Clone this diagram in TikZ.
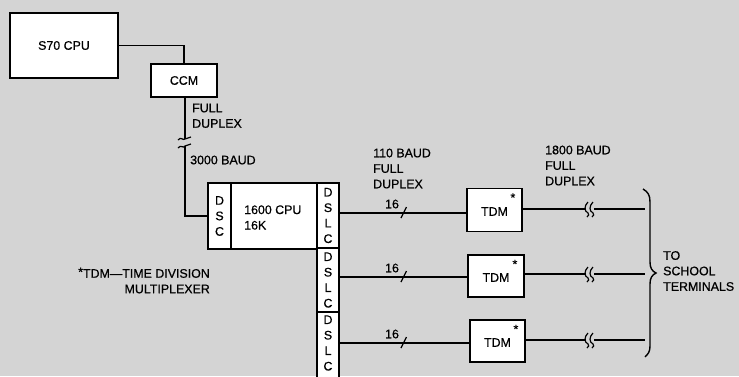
\documentclass[tikz,border=0pt]{standalone}
\usepackage{fontspec}
\setmainfont{Liberation Sans}[UprightFeatures={FakeBold=0.6}]
\begin{document}
\begin{tikzpicture}[x=1pt,y=-1pt,
  box/.style={draw=black,line width=1.8pt,fill=white,inner sep=0pt},
  wire/.style={line width=1.4pt},
  lbl/.style={inner sep=0pt,font=\fontsize{12.4}{15.5}\selectfont,align=left},
  stack/.style={inner sep=0pt,font=\fontsize{12.4}{15.5}\selectfont,align=center}]
\definecolor{bg}{RGB}{212,212,212}
\fill[bg] (0,0) rectangle (739,376);
\useasboundingbox (0,0) rectangle (739,376);
% boxes
\node[box,minimum width=108pt,minimum height=65pt] (s70) at (64,45.5) {};
\node[lbl] (s70t) at (64,45.5) {S70 CPU};
\node[box,minimum width=66pt,minimum height=33pt] (ccm) at (184,80.5) {};
\node[lbl] (ccmt) at (184,80.5) {CCM};
\node[box,minimum width=23pt,minimum height=66pt] (dsc) at (219.5,216) {};
\node[stack] (dsct) at (219.5,216) {D\\S\\C};
\node[box,minimum width=86pt,minimum height=66pt] (cpu) at (274,216) {};
\node[lbl,anchor=west] (cput) at (244,217.5) {1600 CPU\\16K};
\node[box,minimum width=22pt,minimum height=65pt] (dslcA) at (328,215.5) {};
\node[stack] (dslcAt) at (328,215.5) {D\\S\\L\\C};
\node[box,minimum width=22pt,minimum height=64pt] (dslcB) at (328,280) {};
\node[stack] (dslcBt) at (328,280) {D\\S\\L\\C};
\node[box,minimum width=22pt,minimum height=70pt] (dslcC) at (328,347) {};
\node[stack] (dslcCt) at (328,343) {D\\S\\L\\C};
\node[box,minimum width=55pt,minimum height=43pt] (tdmA) at (494.5,210) {};
\node[box,minimum width=56pt,minimum height=42pt] (tdmB) at (496,276) {};
\node[box,minimum width=55pt,minimum height=42pt] (tdmC) at (497.5,341) {};
\foreach \t in {tdmA,tdmB,tdmC}{
  \node[lbl] (\t txt) at ([yshift=-1.5pt]\t.center) {TDM};
  \node[lbl] (\t ast) at ([xshift=-10pt,yshift=-10pt]\t.north east) {*};
}
% S70 to CCM
\draw[wire] (s70.east) -| (ccm.north);
% CCM to DSC with break
\coordinate (brkT) at (185,139);
\coordinate (brkB) at (185,146);
\draw[wire] (ccm.south -| brkT) -- (brkT);
\draw[wire] (brkB) -- (brkB |- dsc.west) -- (dsc.west);
\draw[line width=1.2pt] (178,140) .. controls (181,136) and (183,141) .. (185,139) .. controls (187,137) and (189,139) .. (191,137);
\draw[line width=1.2pt] (178,148) .. controls (181,144) and (183,149) .. (185,146) .. controls (187,144) and (189,146) .. (191,144);
\node[lbl,anchor=north west] (fd1) at (192,103.5) {FULL\\DUPLEX};
\node[lbl,anchor=west] (b3000) at (190,160) {3000 BAUD};
% left wires
\foreach \d/\t/\y in {dslcA/tdmA/213,dslcB/tdmB/277,dslcC/tdmC/343}{
  \coordinate (\d w) at (\d.east |- 0,\y);
  \draw[wire] (\d w) -- (\t.west |- \d w);
  \draw[line width=1.2pt] (401,\y+5) -- (406.5,\y-6);
  \node[lbl] (\d n) at (392,\y-9) {16};
}
% right wires with breaks
\foreach \t/\y in {tdmA/209,tdmB/274,tdmC/340}{
  \coordinate (\t e) at (\t.east |- 0,\y);
  \coordinate (\t b1) at (586,\y);
  \coordinate (\t b2) at (594,\y);
  \coordinate (\t end) at (645,\y);
  \draw[wire] (\t e) -- (\t b1);
  \draw[wire] (\t b2) -- (\t end);
  \draw[line width=1.2pt] (588,\y-7) .. controls (584,\y-3) and (584,\y+2) .. (588,\y+4) .. controls (590,\y+5) and (588,\y+7) .. (587,\y+8);
  \draw[line width=1.2pt] (593,\y-7) .. controls (589,\y-3) and (589,\y+2) .. (593,\y+4) .. controls (595,\y+5) and (593,\y+7) .. (592,\y+8);
}
\node[lbl,anchor=west] (b110) at (373,168.5) {110 BAUD\\FULL\\DUPLEX};
\node[lbl,anchor=west] (b1800) at (545,165.5) {1800 BAUD\\FULL\\DUPLEX};
% brace
\draw[line width=1.4pt] (643,189) .. controls (648,192) and (650,195) .. (650,202) -- (650,262) .. controls (650,268) and (652,271) .. (656,273) .. controls (652,275) and (650,278) .. (650,284) -- (650,346) .. controls (650,352) and (648,354) .. (645,357);
\node[lbl,anchor=west] (school) at (663,271) {TO\\SCHOOL\\TERMINALS};
\node[lbl,anchor=east,align=right] (note) at (210,280.5) {\raisebox{1.5pt}{*}TDM---TIME DIVISION\\MULTIPLEXER};
\end{tikzpicture}
\end{document}
